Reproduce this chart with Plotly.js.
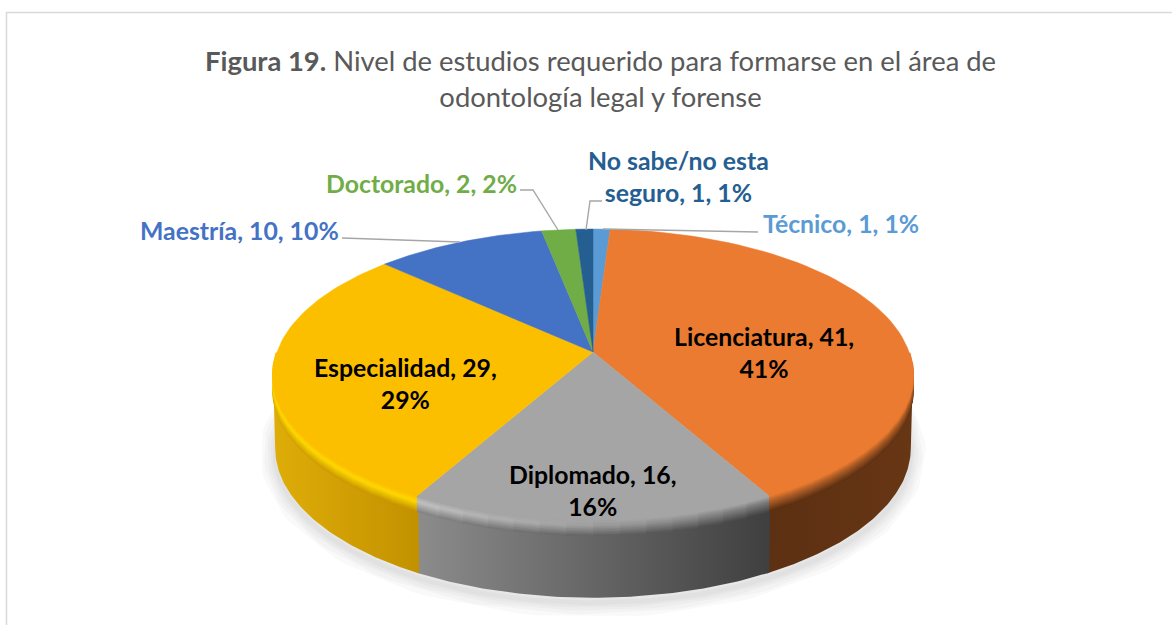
<!DOCTYPE html>
<html><head><meta charset="utf-8">
<script src="https://cdn.plot.ly/plotly-3.0.1.min.js"></script>
<style>html,body{margin:0;padding:0;background:#fff;overflow:hidden}#c{width:1172px;height:625px}</style>
</head><body><div id="c"></div>
<script>
// --- data ---
const categories = ['Técnico','Licenciatura','Diplomado','Especialidad','Maestría','Doctorado','No sabe/no esta seguro'];
const values     = [1,41,16,29,10,2,1];
const colors     = ['#5b9bd5','#ea7b30','#a5a5a5','#fcbf00','#4472c4','#70ad47','#255e91'];
const labelColors= ['#5b9bd5','#000000','#000000','#000000','#4472c4','#70ad47','#255e91'];
const labelBreak = [null,2,2,2,null,null,3];   // words on the first line, null = a single line
const labelX     = [841,764,593,405,239,421,678];
const labelY     = [223,352,490,383,230,183,176];
const titleText  = '<b>Figura 19.</b> Nivel de estudios requerido para formarse en el área de<br>odontología legal y forense';

// --- projection of the tilted disc (drawing style only) ---
const CX=593, K=0.1547;
const topRing={cy:352,R:316,H:142}, botRing={cy:425,R:314,H:146};
const total=values.reduce((a,b)=>a+b,0);
const pt=(r,t,d=0)=>{const w=1+K*Math.cos(t);return [CX+r.R*Math.sin(t)/w, r.cy-r.H*Math.cos(t)/w+d];};
const arc=(r,a,b,d=0,n=70)=>{const o=[];for(let i=0;i<=n;i++)o.push(pt(r,a+(b-a)*i/n,d));return o;};
const xs=p=>p.map(q=>q[0]), ys=p=>p.map(q=>q[1]);
const hex=c=>[1,3,5].map(i=>parseInt(c.substr(i,2),16));
const mix=(a,b,f)=>{const A=hex(a),B=hex(b);return '#'+A.map((v,i)=>Math.round(v+(B[i]-v)*f).toString(16).padStart(2,'0')).join('');};

const starts=[];let acc=0;values.forEach(v=>{starts.push(acc/total*2*Math.PI);acc+=v;});
const ends=values.map((v,i)=>starts[i]+v/total*2*Math.PI);
const T0=Math.acos(-K), T1=2*Math.PI-T0;   // where the disc is widest

const traces=[];
const base={type:'scatter',mode:'lines',hoverinfo:'skip',showlegend:false};

// soft shadow
[30,23,16,10,5].forEach(w=>{
  const p=arc(botRing,0,2*Math.PI,5,200);
  traces.push({...base,x:xs(p),y:ys(p),line:{color:'rgba(0,0,0,0.022)',width:w}});
});

// walls (left colour, right colour)
const wallStyle={1:['#5c3012','#673615'],2:['#8c8c8c','#3f3f3f'],3:['#dfad08','#c29100']};
[1,2,3].forEach(i=>{
  const a=Math.max(starts[i]-0.004,T0), b=Math.min(ends[i]+0.004,T1);
  const p=arc(topRing,a,b).concat(arc(botRing,b,a));
  traces.push({...base,x:xs(p),y:ys(p),fill:'toself',line:{width:0},
    fillgradient:{type:'horizontal',colorscale:[[0,wallStyle[i][0]],[1,wallStyle[i][1]]]}});
});

// rounded rim between wall and top face: [highlight left,right], [foot left,right]
const rim={1:[['#b05f28','#a85a25'],['#5c3012','#673615']],
           2:[['#c4c4c4','#787878'],['#868686','#444444']],
           3:[['#ffd800','#ffd800'],['#dfad08','#c59400']]};
const LEVELS=10, RIM=15, PIECES=14;
[1,2,3].forEach(i=>{
  const a=Math.max(starts[i],T0-0.15), b=Math.min(ends[i],T1+0.15);
  for(let l=LEVELS;l>=0;l--){
    const f=l/LEVELS, d=RIM*f;
    for(let k=0;k<PIECES;k++){
      const a1=a+(b-a)*k/PIECES, a2=a+(b-a)*(k+1.15)/PIECES;
      const g=1-(k+.5)/PIECES;                // 0 at the left end, 1 at the right end
      const hi=mix(rim[i][0][0],rim[i][0][1],g), lo=mix(rim[i][1][0],rim[i][1][1],g);
      const col=f<0.35?mix(colors[i],hi,f/0.35):mix(hi,lo,(f-0.35)/0.65);
      const p=arc(topRing,a1,Math.min(a2,b),d,8);
      traces.push({...base,x:xs(p),y:ys(p),line:{color:col,width:2.2}});
    }
  }
});

// top face
values.forEach((v,i)=>{
  const p=[[CX,topRing.cy]].concat(arc(topRing,starts[i],ends[i]),[[CX,topRing.cy]]);
  traces.push({...base,x:xs(p),y:ys(p),fill:'toself',fillcolor:colors[i],line:{color:colors[i],width:0.5}});
});

// labels
const labelText=i=>{
  const s=`${categories[i]}, ${values[i]}, ${Math.round(values[i]/total*100)}%`;
  if(labelBreak[i]===null) return s;
  const w=s.split(' ');
  return w.slice(0,labelBreak[i]).join(' ')+'<br>'+w.slice(labelBreak[i]).join(' ');
};
const FONT='Lato, Carlito, Calibri, sans-serif';
const annotations=values.map((v,i)=>({
  xref:'x',yref:'y',x:labelX[i],y:labelY[i],text:'<b>'+labelText(i)+'</b>',showarrow:false,
  xanchor:'center',yanchor:'middle',align:'center',
  font:{family:FONT,size:24.8,color:labelColors[i]}
}));
annotations.push({xref:'x',yref:'y',x:600,y:78,text:titleText,showarrow:false,xanchor:'center',yanchor:'middle',align:'center',
  font:{family:FONT,size:27.4,color:'#595959'}});

const leader=p=>({type:'path',path:p,line:{color:'#a6a6a6',width:1.4},layer:'above',xref:'x',yref:'y'});
const shapes=[
  {type:'path',path:'M6.5,700 L6.5,12.5 L1180,12.5',line:{color:'#d9d9d9',width:1.5},layer:'below',xref:'x',yref:'y'},
  leader('M342,238 L460,242'),
  leader('M520,190 L533,190 L558,230'),
  leader('M602,201 L590,201 L586,230'),
  leader('M758,232 L603,229')
];

Plotly.newPlot('c',traces,{
  width:1172,height:625,margin:{l:0,r:0,t:0,b:0,pad:0},
  paper_bgcolor:'#fff',plot_bgcolor:'#fff',showlegend:false,
  xaxis:{range:[0,1172],visible:false,fixedrange:true},
  yaxis:{range:[625,0],visible:false,fixedrange:true},
  annotations,shapes
},{displayModeBar:false,staticPlot:true});
</script></body></html>
